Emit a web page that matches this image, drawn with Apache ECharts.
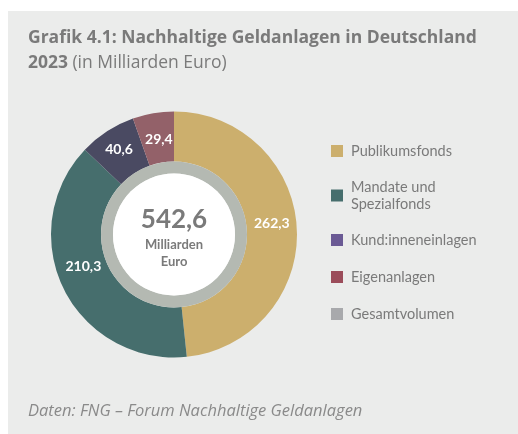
<!DOCTYPE html>
<html>
<head>
<meta charset="UTF-8">
<title>Nachhaltige Geldanlagen</title>
<script src="https://cdn.jsdelivr.net/npm/echarts@6/dist/echarts.min.js"></script>
<style>
  html, body { margin: 0; padding: 0; background: #fff; }
  #main { width: 518px; height: 434px; }
</style>
</head>
<body>
<div id="main"></div>
<script>
// Daten (Milliarden Euro)
var kategorien = ['Publikumsfonds', 'Mandate und Spezialfonds', 'Kund:inneneinlagen', 'Eigenanlagen'];
var werte = [262.3, 210.3, 40.6, 29.4];
var sliceFarben = ['#ccaf6d', '#466e6d', '#4a4a62', '#936169'];
var legendFarben = ['#ccaf6d', '#466e6d', '#6a5a94', '#9b4c5a', '#a8a9ac'];
var gesamtName = 'Gesamtvolumen';

var grau = '#7a7a7a';
var schrift = 'Lato, "Open Sans", sans-serif';
var breit = '"Open Sans", Lato, sans-serif';

function fmt(v) {
    return v.toFixed(1).replace('.', ',');
}

var gesamt = werte.reduce(function (a, b) { return a + b; }, 0);

var myChart = echarts.init(document.getElementById('main'));

var legendData = kategorien.map(function (k, i) {
    var item = { name: k, itemStyle: { color: legendFarben[i] } };
    if (k === 'Mandate und Spezialfonds') {
        // erste Zeile am Symbol ausrichten
        item.textStyle = { padding: [0, 0, -17, 3] };
    }
    return item;
});
legendData.push({ name: gesamtName, itemStyle: { color: legendFarben[4] } });

// kleine Verschiebungen der Beschriftungen im Ring
var labelVersatz = {
    'Publikumsfonds': [-3, -6],
    'Mandate und Spezialfonds': [0, -13],
    'Eigenanlagen': [2, 5]
};

var option = {
    backgroundColor: '#fff',
    textStyle: { fontFamily: schrift },
    graphic: [{
        type: 'rect',
        z: -10,
        shape: { x: 8, y: 11, width: 520, height: 430 },
        style: { fill: '#ebeceb' }
    }],
    title: [{
        left: 23,
        top: 21,
        text: '{b|Grafik 4.1: Nachhaltige Geldanlagen in Deutschland}\n{b|2023} {r|(in Milliarden Euro)}',
        textStyle: {
            rich: {
                b: { fontFamily: breit, fontWeight: 'bold', fontSize: 17.5, color: grau, lineHeight: 25 },
                r: { fontFamily: breit, fontWeight: 'normal', fontSize: 17.5, color: grau, lineHeight: 25 }
            }
        }
    }, {
        left: 23,
        top: 398,
        text: 'Daten: FNG – Forum Nachhaltige Geldanlagen',
        textStyle: { fontFamily: breit, fontStyle: 'italic', fontWeight: 'normal', fontSize: 16.5, color: '#8a8a8a' }
    }],
    legend: {
        orient: 'vertical',
        left: 326,
        top: 137.5,
        itemWidth: 12,
        itemHeight: 12,
        itemGap: 20,
        icon: 'rect',
        selectedMode: false,
        formatter: function (name) {
            return name === 'Mandate und Spezialfonds' ? 'Mandate und\nSpezialfonds' : name;
        },
        textStyle: { fontFamily: schrift, fontSize: 14.5, color: grau, lineHeight: 17, padding: [0, 0, 0, 3] },
        data: legendData
    },
    series: [{
        name: 'Anlagen',
        type: 'pie',
        center: [174, 234.5],
        radius: [73, 123],
        startAngle: 90,
        clockwise: true,
        silent: true,
        color: sliceFarben,
        itemStyle: { borderWidth: 0 },
        label: {
            show: true,
            position: 'inside',
            formatter: function (p) { return fmt(p.value); },
            fontFamily: schrift,
            fontWeight: 'bold',
            fontSize: 14,
            color: '#fff'
        },
        labelLine: { show: false },
        data: kategorien.map(function (k, i) {
            var d = { name: k, value: werte[i] };
            if (labelVersatz[k]) {
                d.label = { offset: labelVersatz[k] };
            }
            return d;
        })
    }, {
        name: gesamtName,
        type: 'pie',
        center: [174, 234.5],
        radius: [61, 73],
        silent: true,
        label: { show: false },
        labelLine: { show: false },
        itemStyle: { color: '#b4b9b2' },
        data: [{ name: gesamtName, value: gesamt }]
    }, {
        name: 'mitte',
        type: 'pie',
        center: [174, 234.5],
        radius: [0, 61],
        silent: true,
        itemStyle: { color: '#fff' },
        label: {
            show: true,
            position: 'center',
            offset: [0, 3],
            formatter: function () {
                return '{z|' + fmt(gesamt) + '}\n{e|Milliarden}\n{e|Euro}';
            },
            rich: {
                z: { fontFamily: schrift, fontWeight: 'bold', fontSize: 26, color: grau, lineHeight: 32, padding: [0, 0, 3, 0] },
                e: { fontFamily: schrift, fontWeight: 'bold', fontSize: 13, color: grau, lineHeight: 16.5 }
            }
        },
        labelLine: { show: false },
        data: [{ name: 'mitte', value: 1 }]
    }]
};

myChart.setOption(option);
</script>
</body>
</html>
